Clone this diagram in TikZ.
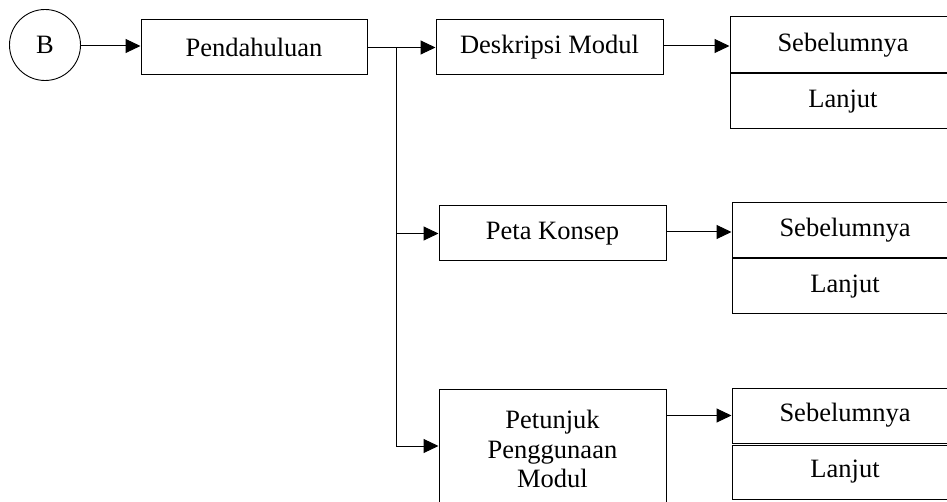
\documentclass[tikz,border=0pt]{standalone}
\usepackage{fontspec}
\setmainfont{Liberation Serif}
\usetikzlibrary{arrows.meta,calc}

\begin{document}
\begin{tikzpicture}[x=1pt,y=-1pt,
  every node/.style={font=\fontsize{26.5}{29.5}\selectfont, inner sep=0pt},
  box/.style={draw, line width=1pt, align=center, minimum width=227, minimum height=55},
  sidebox/.style={draw, line width=1pt, minimum width=226, minimum height=55},
  circ/.style={draw, circle, line width=0.9pt, minimum size=71},
  arr/.style={line width=1pt, -{Triangle[length=15pt,width=14pt]}},
  wire/.style={line width=1pt}]
  \useasboundingbox (0,0) rectangle (947,502);
  \clip (0,0) rectangle (947,502);

  % start connector and first level
  \node[circ] (b) at (45,45) {B};
  \node[box, minimum width=226] (pend) at (254,47.5) {Pendahuluan};
  \node[box] (desk) at (549.5,47.5) {Deskripsi Modul};
  \node[box] (peta) at (552.5,233.5) {Peta Konsep};
  \node[box, minimum height=120] (pet) at (552.5,449) {Petunjuk\\Penggunaan\\Modul};

  % navigation buttons
  \node[sidebox, minimum height=56] (seb1) at (843,45) {Sebelumnya};
  \node[sidebox] (lan1) at (843,101.5) {Lanjut};
  \node[sidebox] (seb2) at (845,230.5) {Sebelumnya};
  \node[sidebox] (lan2) at (845,286.5) {Lanjut};
  \node[sidebox] (seb3) at (845,415.5) {Sebelumnya};
  \node[sidebox, minimum height=54] (lan3) at (845,472) {Lanjut};

  % branching point after Pendahuluan
  \coordinate (j) at (396,47.5);

  \draw[arr] (b.east |- 0,46) -- (pend.west |- 0,46);
  \draw[arr] (pend.east) -- (desk.west);
  \draw[wire] (j) -- ($(j |- pet.west)+(0,-2)$);
  \draw[arr] (j |- peta.west) -- (peta.west);
  \draw[arr] ($(j |- pet.west)+(0,-3)$) -- ($(pet.west)+(0,-3)$);

  \draw[arr] (desk.east |- 0,46) -- (seb1.west |- 0,46);
  \draw[arr] (peta.east |- 0,232) -- (seb2.west |- 0,232);
  \draw[arr] (pet.east |- seb3.west) -- (seb3.west);
\end{tikzpicture}
\end{document}
